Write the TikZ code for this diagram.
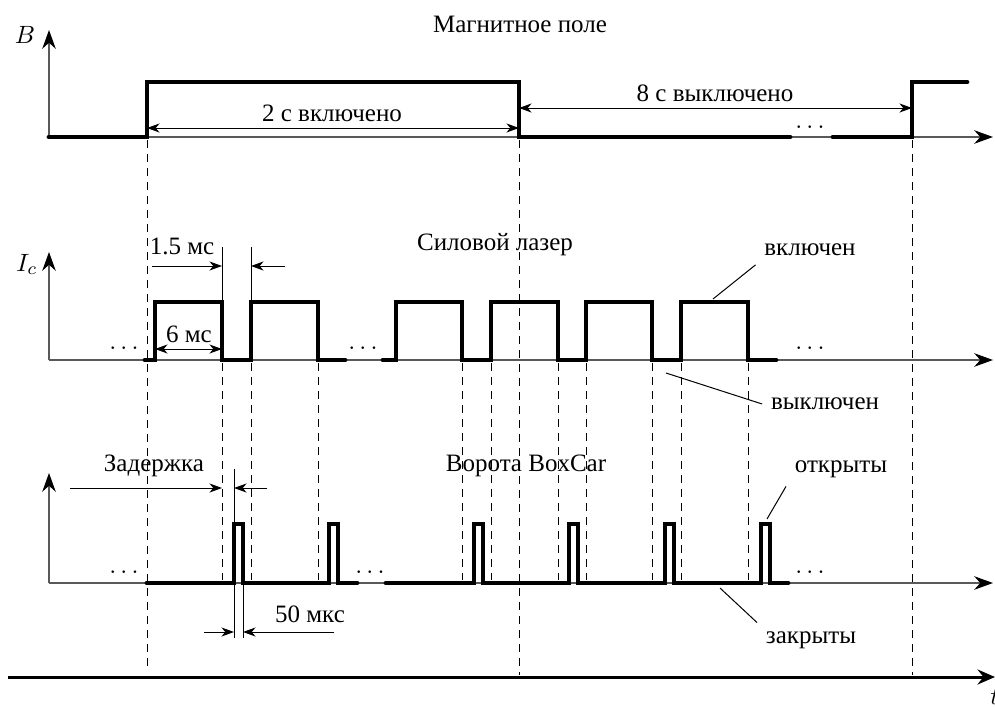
\documentclass[tikz,border=0pt]{standalone}
\usepackage{fontspec}
\setmainfont{Liberation Serif}
\usetikzlibrary{arrows.meta}

\begin{document}
\begin{tikzpicture}[x=0.4pt, y=-0.4pt,
  >={Stealth[length=5pt, width=3.6pt, inset=1.5pt]},
  signal/.style={line width=1.9pt, line cap=round},
  axis/.style={black!65, line width=0.55pt, -{Stealth[length=7.5pt, width=5.4pt, inset=2.4pt, color=black]}},
  guide/.style={line width=0.4pt, dash pattern=on 3.2pt off 2.4pt},
  dim/.style={line width=0.4pt}]
  \useasboundingbox (0,0) rectangle (995,707);

  % Axes
  \coordinate (Borig) at (49,137);
  \coordinate (Iorig) at (49,360);
  \coordinate (Gorig) at (49,583);
  \draw[axis] (Borig) -- (49,30) node[left, black, xshift=-2pt, yshift=-2pt] (Blabel) {$B$};
  \draw[axis] (Borig) -- (993,137);
  \draw[axis] (Iorig) -- (49,252) node[left, black, xshift=-1pt, yshift=-5pt] (Ilabel) {$I_c$};
  \draw[axis] (Iorig) -- (993,360);
  \draw[axis] (Gorig) -- (49,473);
  \draw[axis] (Gorig) -- (993,583);
  \draw[line width=1.2pt, -{Stealth[length=7pt, width=6pt, inset=2.4pt]}] (8,677) -- (995,677) node[below, yshift=-1pt] (tlabel) {$t$};

  % Guide lines
  \draw[guide] (147,140) -- (147,670) (519,140) -- (519,675) (912,140) -- (912,675);
  \draw[guide] (222,363) -- (222,580) (251,363) -- (251,580) (318,363) -- (318,580)
    (462,363) -- (462,580) (491,363) -- (491,580) (558,363) -- (558,580)
    (586,363) -- (586,580) (652,363) -- (652,580) (681,363) -- (681,580)
    (748,363) -- (748,580);

  % Magnetic field
  \node (field) at (520,24) {Магнитное поле};
  \draw[signal] (49,137) -- (147,137) -- (147,82) -- (519,82) -- (519,137) -- (790,137);
  \draw[signal] (833,137) -- (912,137) -- (912,82) -- (967,82);
  \node (fielddots) at (810,127) {$\ldots$};
  \draw[dim, <->] (147,128) -- (519,128);
  \node (fieldon) at (332,113) {2~с включено};
  \draw[dim, <->] (519,108) -- (912,108);
  \node (fieldoff) at (715,93) {8~с выключено};

  % Power laser
  \node (laser) at (495,245) {Силовой лазер};
  \draw[signal] (145,360) -- (155,360) -- (155,302) -- (222,302) -- (222,360) -- (251,360)
    -- (251,302) -- (318,302) -- (318,360) -- (345,360);
  \draw[signal] (383,360) -- (396,360) -- (396,302) -- (462,302) -- (462,360) -- (491,360)
    -- (491,302) -- (558,302) -- (558,360) -- (586,360) -- (586,302) -- (652,302)
    -- (652,360) -- (681,360) -- (681,302) -- (748,302) -- (748,360) -- (776,360);
  \node (laserdotsa) at (124,348) {$\ldots$};
  \node (laserdotsb) at (363,348) {$\ldots$};
  \node (laserdotsc) at (810,348) {$\ldots$};
  \draw[dim] (222,247) -- (222,302) (251,247) -- (251,302);
  \draw[dim, ->] (152,266) -- (222,266);
  \draw[dim, ->] (285,266) -- (251,266);
  \node (gap) at (182,246) {1.5~мс};
  \draw[dim, <->] (155,349) -- (222,349);
  \node (width) at (189,334) {6~мс};
  \node (laseron) at (810,250) {включен};
  \coordinate (laseronpt) at (713,299);
  \draw[dim] (laseron.south west) -- (laseronpt);
  \node (laseroff) at (825,404) {выключен};
  \coordinate (laseroffpt) at (666,373);
  \draw[dim] (laseroff.west) -- (laseroffpt);

  % BoxCar gate
  \node (gate) at (526,466) {Ворота BoxCar};
  \draw[signal] (147,583) -- (234,583) -- (234,524) -- (243,524) -- (243,583) -- (329,583)
    -- (329,524) -- (338,524) -- (338,583) -- (357,583);
  \draw[signal] (386,583) -- (474,583) -- (474,524) -- (483,524) -- (483,583) -- (569,583)
    -- (569,524) -- (578,524) -- (578,583) -- (665,583) -- (665,524) -- (674,524)
    -- (674,583) -- (761,583) -- (761,524) -- (770,524) -- (770,583) -- (788,583);
  \node (gatedotsa) at (124,572) {$\ldots$};
  \node (gatedotsb) at (370,572) {$\ldots$};
  \node (gatedotsc) at (810,572) {$\ldots$};
  \draw[dim] (234,469) -- (234,638) (243,583) -- (243,638);
  \draw[dim, ->] (70,488) -- (222,488);
  \draw[dim, ->] (267,488) -- (234,488);
  \node (delay) at (154,466) {Задержка};
  \draw[dim, ->] (204,632) -- (234,632);
  \draw[dim, ->] (334,632) -- (243,632);
  \node (gatewidth) at (310,614) {50~мкс};
  \node (gateopen) at (841,469) {открыты};
  \coordinate (gateopenpt) at (767,519);
  \draw[dim] (gateopen.south west) -- (gateopenpt);
  \node (gateclosed) at (811,640) {закрыты};
  \coordinate (gateclosedpt) at (720,588);
  \draw[dim] (gateclosed.north west) -- (gateclosedpt);
\end{tikzpicture}
\end{document}
